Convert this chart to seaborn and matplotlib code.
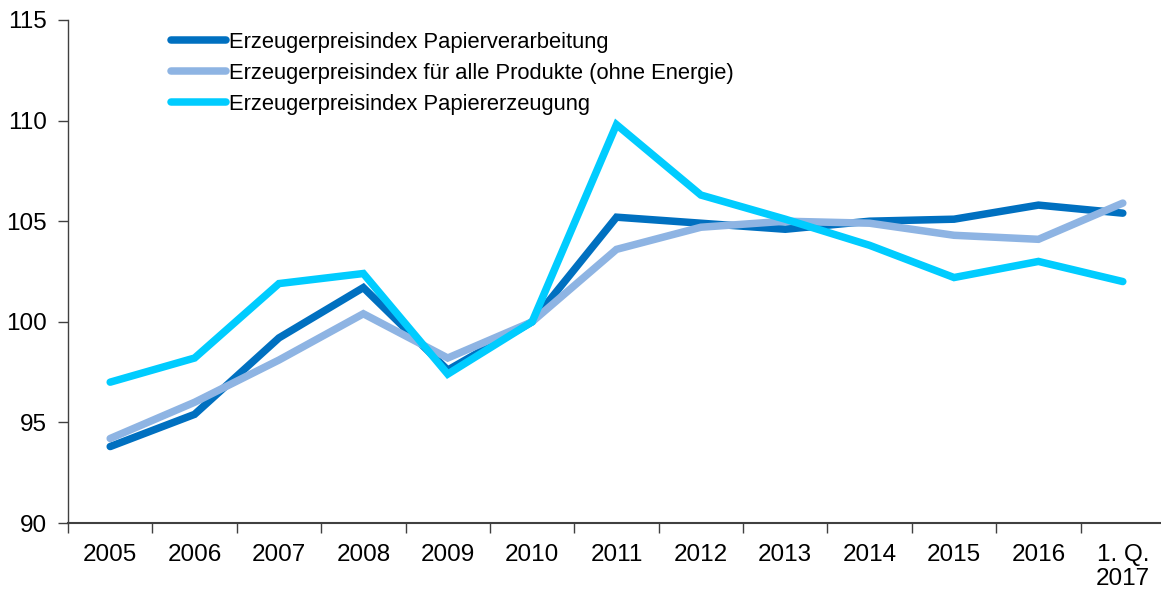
import numpy as np
import pandas as pd
import matplotlib
matplotlib.use("Agg")
import matplotlib.pyplot as plt
import seaborn as sns

categories = ["2005", "2006", "2007", "2008", "2009", "2010", "2011", "2012",
              "2013", "2014", "2015", "2016", "1. Q.\n2017"]
papierverarbeitung = [93.8, 95.4, 99.2, 101.7, 97.6, 100.0, 105.2, 104.9, 104.6, 105.0, 105.1, 105.8, 105.4]
alle_produkte = [94.2, 96.0, 98.1, 100.4, 98.2, 100.0, 103.6, 104.7, 105.0, 104.9, 104.3, 104.1, 105.9]
papiererzeugung = [97.0, 98.2, 101.9, 102.4, 97.4, 100.0, 109.8, 106.3, 105.1, 103.8, 102.2, 103.0, 102.0]
series_names = ["Erzeugerpreisindex Papierverarbeitung",
                "Erzeugerpreisindex für alle Produkte (ohne Energie)",
                "Erzeugerpreisindex Papiererzeugung"]
colors = ["#0070C0", "#8EB4E3", "#00CCFF"]

sns.set_style("white")
plt.rcParams["font.family"] = ["Liberation Sans", "DejaVu Sans"]
plt.rcParams["text.color"] = "black"
plt.rcParams["xtick.color"] = "#404040"
plt.rcParams["ytick.color"] = "#404040"
plt.rcParams["xtick.labelcolor"] = "black"
plt.rcParams["ytick.labelcolor"] = "black"

rows = []
for name, vals in zip(series_names, [papierverarbeitung, alle_produkte, papiererzeugung]):
    for i, v in enumerate(vals):
        rows.append({"pos": i, "value": v, "series": name})
df = pd.DataFrame(rows)

fig = plt.figure(figsize=(11.61, 5.89), dpi=100)
ax = fig.add_axes([68/1161, 1 - 523/589, (1165 - 68)/1161, (523 - 20)/589])

sns.lineplot(data=df, x="pos", y="value", hue="series", hue_order=series_names,
             palette=dict(zip(series_names, colors)), linewidth=5.4, ax=ax,
             legend=True)
for ln in ax.get_lines():
    ln.set_solid_capstyle("round")
    ln.set_solid_joinstyle("miter")

ax.set_xlim(-0.5, len(categories) - 0.5)
ax.set_ylim(90, 115)
ax.set_yticks([90, 95, 100, 105, 110, 115])
ax.set_xticks(range(len(categories)))
ax.set_xticklabels(categories, fontsize=17.5, linespacing=1.15)
ax.set_xticks(np.arange(-0.5, len(categories) - 0.5 + 0.01, 1), minor=True)
ax.tick_params(axis="x", which="major", bottom=True, length=0, pad=15)
ax.tick_params(axis="x", which="minor", bottom=True, length=7, direction="out", width=1)
ax.tick_params(axis="y", which="major", left=True, length=7, direction="out", width=1,
               labelsize=17.5, pad=8)
ax.set_xlabel("")
ax.set_ylabel("")
sns.despine(ax=ax, top=True, right=True)
ax.spines["left"].set_color("#404040")
ax.spines["bottom"].set_color("#404040")
ax.spines["left"].set_linewidth(1)
ax.spines["bottom"].set_linewidth(1.5)
ax.grid(False)

handles, labels = ax.get_legend_handles_labels()
for h in handles:
    h.set_linewidth(5.4)
    h.set_solid_capstyle("round")
leg = ax.legend(handles, labels, loc="upper left", bbox_to_anchor=(91/1097, 1.0),
                frameon=False, fontsize=15.8, handlelength=2.5, handletextpad=0.15,
                labelspacing=0.45, borderaxespad=0.15)
for t in leg.get_texts():
    t.set_color("black")

fig.savefig("out.png", dpi=100)
